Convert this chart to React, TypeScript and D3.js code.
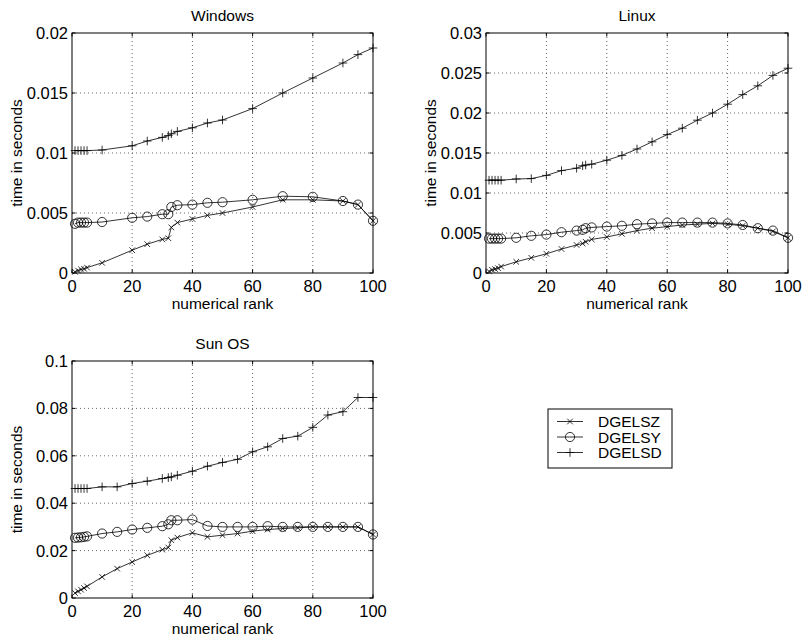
import * as d3 from "d3"
import { scaleLinear, line, range } from "d3"

// rank values for each platform
const winRank = [1, 2, 3, 4, 5, 10, 20, 25, 30, 32, 33, 35, 40, 45, 50, 60, 70, 80, 90, 95, 100]
const rank = [1, 2, 3, 4, 5, 10, 15, 20, 25, 30, 32, 33, 35, 40, 45, 50, 55, 60, 65, 70, 75, 80, 85, 90, 95, 100]

// Windows timings
const winDGELSZ = [0.0001, 0.0002, 0.0003, 0.00035, 0.00045, 0.00085, 0.0019, 0.0024, 0.0028, 0.0029, 0.0038, 0.0042, 0.0045, 0.0048, 0.005, 0.0055, 0.0061, 0.0061, 0.006, 0.0057, 0.00435]
const winDGELSY = [0.0041, 0.0042, 0.0042, 0.0042, 0.0042, 0.00425, 0.0046, 0.0047, 0.0049, 0.0049, 0.0055, 0.00565, 0.0057, 0.00585, 0.0059, 0.0061, 0.0064, 0.00635, 0.006, 0.0057, 0.00435]
const winDGELSD = [0.0102, 0.0102, 0.0102, 0.0102, 0.0102, 0.01025, 0.0106, 0.011, 0.0113, 0.01145, 0.0116, 0.0118, 0.0121, 0.0125, 0.01275, 0.0137, 0.015, 0.01625, 0.0175, 0.0182, 0.01875]

// Linux timings
const linDGELSZ = [0.0002, 0.0004, 0.0005, 0.0006, 0.0008, 0.0014, 0.0019, 0.0024, 0.003, 0.0035, 0.0037, 0.0039, 0.0042, 0.0045, 0.0049, 0.0053, 0.0056, 0.0058, 0.006, 0.0061, 0.0062, 0.0061, 0.0059, 0.0056, 0.0052, 0.0044]
const linDGELSY = [0.0043, 0.0043, 0.0043, 0.0043, 0.0043, 0.0044, 0.00465, 0.0048, 0.0051, 0.0053, 0.0054, 0.0056, 0.0057, 0.0058, 0.0059, 0.0061, 0.0062, 0.0063, 0.0063, 0.0063, 0.0063, 0.0062, 0.006, 0.0056, 0.0053, 0.0044]
const linDGELSD = [0.0116, 0.0116, 0.0116, 0.0116, 0.0116, 0.01175, 0.0118, 0.0122, 0.0128, 0.0131, 0.0134, 0.0135, 0.0136, 0.0141, 0.0147, 0.0155, 0.0164, 0.0173, 0.0181, 0.0191, 0.02, 0.0211, 0.0223, 0.0234, 0.0247, 0.0256]

// Sun OS timings
const sunDGELSZ = [0.0021, 0.0028, 0.0035, 0.0042, 0.0049, 0.0089, 0.0124, 0.0152, 0.018, 0.0204, 0.0213, 0.0244, 0.0255, 0.0275, 0.0258, 0.0265, 0.0272, 0.0282, 0.0289, 0.0293, 0.0296, 0.03, 0.03, 0.03, 0.03, 0.0268]
const sunDGELSY = [0.0254, 0.0255, 0.0256, 0.0258, 0.026, 0.0272, 0.0279, 0.0289, 0.0296, 0.0303, 0.0311, 0.0328, 0.0328, 0.0331, 0.0304, 0.03, 0.03, 0.03, 0.0303, 0.03, 0.03, 0.03, 0.03, 0.03, 0.03, 0.0268]
const sunDGELSD = [0.0462, 0.0462, 0.0462, 0.0462, 0.0462, 0.0469, 0.0469, 0.0483, 0.0493, 0.0504, 0.0508, 0.0511, 0.0518, 0.0535, 0.0556, 0.0572, 0.0585, 0.0617, 0.0638, 0.0673, 0.0683, 0.072, 0.0772, 0.0786, 0.0846, 0.0846]

const seriesNames = ["DGELSZ", "DGELSY", "DGELSD"]
const markerTypes = ["x", "o", "+"]

const xTicks = [0, 20, 40, 60, 80, 100]
const winTicks = [0, 0.005, 0.01, 0.015, 0.02]
const linTicks = [0, 0.005, 0.01, 0.015, 0.02, 0.025, 0.03]
const sunTicks = [0, 0.02, 0.04, 0.06, 0.08, 0.1]

const FONT = "'Liberation Sans', Arial, Helvetica, sans-serif"
const TICK_FS = 16.5
const LABEL_FS = 15.5

function Marker({ type, x, y }: { type: string; x: number; y: number }) {
  if (type === "o") return <circle cx={x} cy={y} r={4.6} fill="none" stroke="#000" strokeWidth={0.8} />
  if (type === "x") {
    const s = 2.8
    return <path d={`M${x - s},${y - s}L${x + s},${y + s}M${x - s},${y + s}L${x + s},${y - s}`} stroke="#000" strokeWidth={0.8} />
  }
  const s = 4.3
  return <path d={`M${x - s},${y}L${x + s},${y}M${x},${y - s}L${x},${y + s}`} stroke="#000" strokeWidth={0.8} />
}

function Panel({ title, left, top, width, height, xs, ys, yTicks, yFmt }: any) {
  const x = scaleLinear().domain([0, 100]).range([left, left + width])
  const y = scaleLinear().domain([yTicks[0], yTicks[yTicks.length - 1]]).range([top + height, top])
  const path = line<number>().x((d, i) => x(xs[i])).y(d => y(d))
  const tl = 3.5

  return (
    <g>
      {/* grid */}
      {xTicks.slice(1, -1).map(t => (
        <line key={"gx" + t} x1={x(t)} x2={x(t)} y1={top} y2={top + height} stroke="#000" strokeWidth={0.6} strokeDasharray="1,3" />
      ))}
      {yTicks.slice(1, -1).map((t: number) => (
        <line key={"gy" + t} x1={left} x2={left + width} y1={y(t)} y2={y(t)} stroke="#000" strokeWidth={0.6} strokeDasharray="1,3" />
      ))}
      {/* ticks, inward on all sides */}
      {xTicks.map(t => (
        <g key={"tx" + t}>
          <line x1={x(t)} x2={x(t)} y1={top + height} y2={top + height - tl} stroke="#000" />
          <line x1={x(t)} x2={x(t)} y1={top} y2={top + tl} stroke="#000" />
          <text x={x(t)} y={top + height + 19} textAnchor="middle" fontSize={TICK_FS} fontFamily={FONT}>{t}</text>
        </g>
      ))}
      {yTicks.map((t: number) => (
        <g key={"ty" + t}>
          <line x1={left} x2={left + tl} y1={y(t)} y2={y(t)} stroke="#000" />
          <line x1={left + width} x2={left + width - tl} y1={y(t)} y2={y(t)} stroke="#000" />
          <text x={left - 4} y={y(t)} dy="0.36em" textAnchor="end" fontSize={TICK_FS} fontFamily={FONT}>{yFmt(t)}</text>
        </g>
      ))}
      <rect x={left} y={top} width={width} height={height} fill="none" stroke="#000" strokeWidth={1} />

      {/* series */}
      {ys.map((vals: number[], k: number) => (
        <g key={"s" + k}>
          <path d={path(vals) || ""} fill="none" stroke="#000" strokeWidth={0.8} />
          {vals.map((v, i) => <Marker key={i} type={markerTypes[k]} x={x(xs[i])} y={y(v)} />)}
        </g>
      ))}

      <text x={left + width / 2} y={top - 12} textAnchor="middle" fontSize={LABEL_FS} fontFamily={FONT}>{title}</text>
      <text x={left + width / 2} y={top + height + 36} textAnchor="middle" fontSize={LABEL_FS} fontFamily={FONT}>numerical rank</text>
      <text transform={`translate(${left - 50},${top + height / 2}) rotate(-90)`} textAnchor="middle" fontSize={LABEL_FS} fontFamily={FONT}>time in seconds</text>
    </g>
  )
}

function Legend({ left, top }: { left: number; top: number }) {
  const rowH = 15.5
  return (
    <g>
      <rect x={left} y={top} width={124} height={59} fill="#fff" stroke="#000" strokeWidth={1} />
      {seriesNames.map((name, i) => {
        const cy = top + 12.5 + i * rowH
        return (
          <g key={name}>
            <line x1={left + 9} x2={left + 35} y1={cy} y2={cy} stroke="#000" strokeWidth={0.8} />
            <Marker type={markerTypes[i]} x={left + 22} y={cy} />
            <text x={left + 50} y={cy} dy="0.36em" fontSize={LABEL_FS} fontFamily={FONT}>{name}</text>
          </g>
        )
      })}
    </g>
  )
}

const fmtSmall = (t: number) => (t === 0 ? "0" : String(+t.toFixed(3)))

export default function App() {
  return (
    <svg width={802} height={643} style={{ position: "absolute", left: 0, top: 0, background: "#fff" }}>
      <Panel title="Windows" left={72} top={33} width={301} height={240} xs={winRank}
        ys={[winDGELSZ, winDGELSY, winDGELSD]} yTicks={winTicks} yFmt={fmtSmall} />
      <Panel title="Linux" left={486} top={33} width={302} height={240} xs={rank}
        ys={[linDGELSZ, linDGELSY, linDGELSD]} yTicks={linTicks} yFmt={fmtSmall} />
      <Panel title="Sun OS" left={72} top={361} width={301} height={237} xs={rank}
        ys={[sunDGELSZ, sunDGELSY, sunDGELSD]} yTicks={sunTicks} yFmt={fmtSmall} />
      <Legend left={548} top={409} />
    </svg>
  )
}
